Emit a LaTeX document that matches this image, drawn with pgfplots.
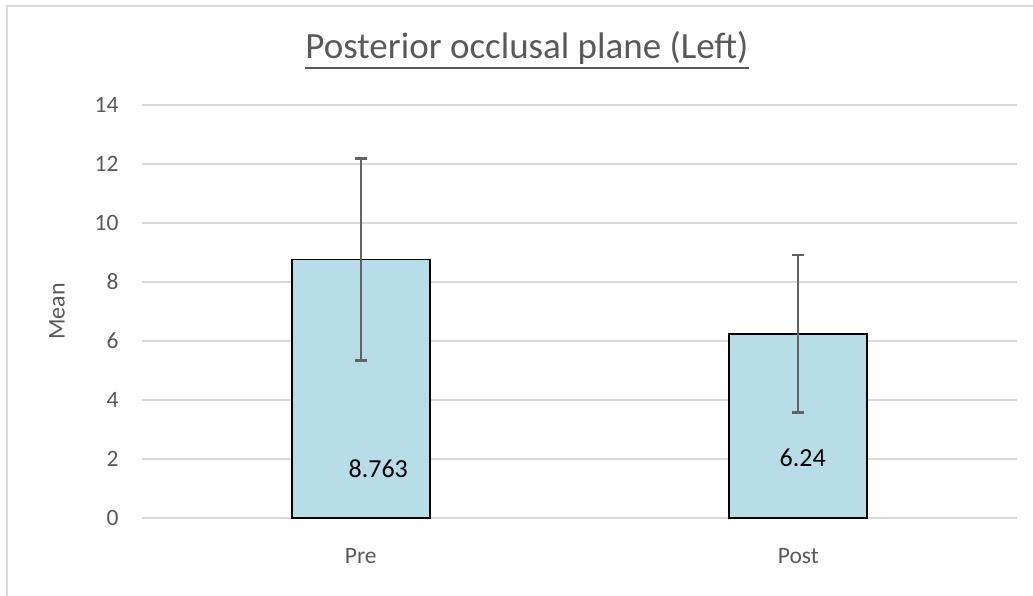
\documentclass[border=0pt]{standalone}
\usepackage{pgfplots}
\pgfplotsset{compat=1.18}
\usepackage{fontspec}
\setmainfont{Carlito}
\definecolor{barfill}{HTML}{B7DEE8}
\definecolor{gridc}{HTML}{D9D9D9}
\definecolor{txt}{HTML}{595959}
\definecolor{errc}{HTML}{636363}
\begin{document}
\begin{tikzpicture}[x=1pt,y=1pt]
\useasboundingbox (0,0) rectangle (1033,596);
\draw[gridc,line width=1.5pt] (7,-5) -- (7,590) -- (1040,590);
\node[anchor=base,inner sep=0pt,text=txt,font=\fontsize{37}{42}\selectfont] (t) at (527,537) {Posterior occlusal plane (Left)};
\draw[txt,line width=2.6pt] ([yshift=-9pt]t.base west) -- ([yshift=-9pt]t.base east);
\begin{axis}[
  scale only axis,
  width=875pt, height=413pt,
  at={(142pt,78pt)}, anchor=south west,
  xmin=-0.5, xmax=1.5,
  ymin=0, ymax=14,
  ytick={0,2,...,14},
  xtick={0,1},
  xticklabels={Pre,Post},
  axis line style={draw=none},
  major tick style={draw=none},
  ymajorgrids,
  grid style={gridc,line width=1.5pt},
  tick label style={text=txt,font=\fontsize{23.5}{27}\selectfont},
  /pgf/number format/assume math mode=true,
  yticklabel style={xshift=-20pt},
  xticklabel style={yshift=-27pt},
  ylabel={Mean},
  every axis y label/.style={at={(rel axis cs:0,0.5)},rotate=90,anchor=center,yshift=85pt,text=txt,font=\fontsize{24}{28}\selectfont},
  clip=false,
]
\addplot[ybar, bar width=138pt, fill=barfill, draw=black, line width=1.6pt,
  error bars/.cd, y dir=both, y explicit,
  error bar style={errc,line width=2.2pt},
  error mark options={errc,line width=2.6pt,rotate=90,mark size=6pt}]
  coordinates {(0,8.763) +- (0,3.42) (1,6.24) +- (0,2.67)};
\node[font=\fontsize{26}{30}\selectfont] at (axis cs:0.04,1.66) {8.763};
\node[font=\fontsize{26}{30}\selectfont] at (axis cs:1.01,2.03) {6.24};
\end{axis}
\end{tikzpicture}
\end{document}
